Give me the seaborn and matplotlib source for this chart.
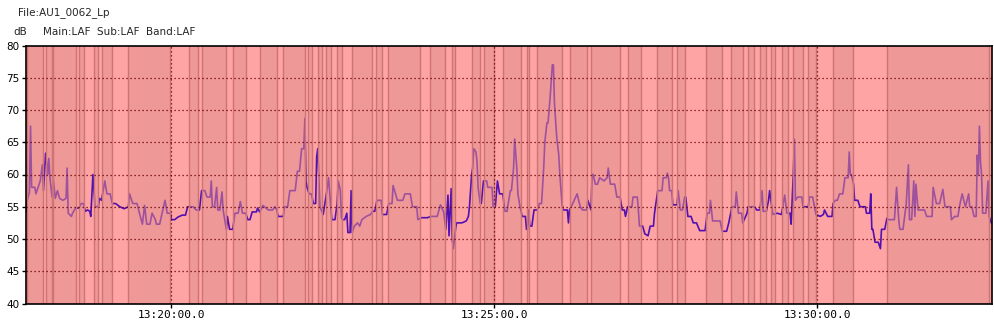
import matplotlib
matplotlib.use("Agg")
import matplotlib.pyplot as plt
import seaborn as sns
import pandas as pd
from matplotlib.ticker import FixedLocator, FuncFormatter

# ---- data: time in seconds after 13:00:00, level in dB ----
time_s = [
    1065, 1066, 1068, 1069, 1070, 1073, 1074, 1078, 1080, 1081, 1083, 1085, 1086, 1087, 1089, 1090,
    1092, 1094, 1096, 1099, 1102, 1103, 1104, 1107, 1108, 1111, 1114, 1116, 1118, 1120, 1122, 1124,
    1125, 1127, 1129, 1132, 1133, 1135, 1138, 1140, 1143, 1145, 1148, 1152, 1156, 1160, 1161, 1164,
    1168, 1171, 1173, 1175, 1177, 1180, 1182, 1185, 1186, 1189, 1192, 1194, 1196, 1199, 1200, 1203,
    1206, 1210, 1213, 1215, 1220, 1223, 1226, 1228, 1231, 1233, 1236, 1237, 1238, 1240, 1242, 1243,
    1245, 1247, 1248, 1251, 1252, 1254, 1257, 1259, 1262, 1264, 1266, 1269, 1271, 1273, 1275, 1279,
    1280, 1282, 1285, 1290, 1294, 1296, 1298, 1299, 1304, 1305, 1308, 1310, 1315, 1317, 1319, 1321,
    1323, 1324, 1325, 1326, 1328, 1330, 1332, 1334, 1335, 1336, 1338, 1341, 1344, 1346, 1349, 1352,
    1354, 1355, 1357, 1358, 1359, 1361, 1363, 1364, 1366, 1367, 1368, 1370, 1373, 1375, 1377, 1381,
    1385, 1387, 1389, 1391, 1395, 1396, 1400, 1402, 1405, 1406, 1410, 1415, 1417, 1422, 1424, 1428,
    1429, 1432, 1438, 1441, 1447, 1450, 1453, 1455, 1457, 1458, 1460, 1461, 1462, 1464, 1465, 1470,
    1474, 1476, 1477, 1479, 1480, 1481, 1483, 1484, 1485, 1487, 1488, 1490, 1493, 1494, 1498, 1499,
    1501, 1503, 1505, 1508, 1510, 1512, 1513, 1515, 1516, 1518, 1519, 1521, 1522, 1524, 1526, 1529,
    1530, 1531, 1532, 1533, 1535, 1537, 1540, 1542, 1544, 1546, 1547, 1549, 1550, 1552, 1554, 1555,
    1556, 1558, 1560, 1561, 1563, 1564, 1568, 1569, 1570, 1573, 1577, 1580, 1582, 1586, 1587, 1590,
    1591, 1592, 1594, 1596, 1598, 1602, 1605, 1606, 1608, 1612, 1614, 1617, 1619, 1621, 1622, 1624,
    1628, 1629, 1633, 1634, 1635, 1638, 1640, 1643, 1645, 1648, 1649, 1652, 1656, 1657, 1660, 1661,
    1662, 1663, 1665, 1666, 1669, 1670, 1671, 1673, 1675, 1677, 1678, 1680, 1683, 1685, 1688, 1691,
    1696, 1698, 1700, 1701, 1703, 1710, 1712, 1716, 1718, 1721, 1724, 1725, 1727, 1730, 1731, 1735,
    1736, 1742, 1744, 1747, 1749, 1750, 1753, 1755, 1756, 1759, 1763, 1767, 1770, 1772, 1775, 1776,
    1778, 1779, 1780, 1782, 1786, 1787, 1792, 1793, 1796, 1799, 1803, 1806, 1807, 1810, 1814, 1815,
    1817, 1819, 1821, 1824, 1826, 1829, 1830, 1831, 1832, 1834, 1835, 1838, 1840, 1845, 1846, 1849,
    1850, 1851, 1852, 1854, 1857, 1859, 1860, 1863, 1865, 1866, 1872, 1874, 1876, 1877, 1880, 1883,
    1885, 1886, 1888, 1890, 1891, 1892, 1894, 1900, 1902, 1907, 1908, 1911, 1914, 1917, 1919, 1924,
    1925, 1928, 1931, 1933, 1935, 1938, 1941, 1942, 1944, 1946, 1948, 1949, 1950, 1951, 1952, 1953,
    1954, 1957, 1959, 1960, 1962,
]
level_db = [
    54.2, 56.0, 57.3, 67.5, 58.0, 58.0, 57.0, 59.0, 61.5, 57.5, 63.3, 60.0, 62.5, 59.5, 56.5, 59.5,
    56.3, 57.5, 56.3, 56.0, 56.3, 61.0, 54.0, 53.5, 54.0, 54.8, 54.8, 55.5, 55.5, 54.3, 54.5, 54.3,
    53.5, 60.0, 55.0, 55.0, 56.3, 56.0, 59.0, 57.0, 57.0, 55.5, 55.5, 55.0, 54.7, 55.0, 57.0, 55.5,
    55.5, 53.5, 52.3, 55.2, 52.3, 52.3, 54.0, 53.0, 52.3, 52.3, 54.5, 56.0, 54.0, 54.0, 53.0, 53.0,
    53.4, 53.7, 53.7, 55.0, 55.0, 54.5, 54.5, 57.5, 57.5, 56.5, 56.5, 59.0, 55.0, 55.0, 58.0, 54.5,
    54.5, 57.3, 54.5, 51.5, 53.5, 51.5, 51.5, 54.0, 54.0, 55.8, 54.0, 54.0, 53.0, 53.0, 54.2, 54.2,
    54.8, 54.2, 55.2, 54.5, 54.5, 55.0, 54.5, 53.5, 53.5, 55.0, 55.0, 57.5, 57.5, 60.5, 60.5, 64.0,
    64.0, 68.7, 59.0, 58.0, 57.0, 57.0, 55.5, 55.5, 62.8, 64.0, 55.0, 53.8, 57.0, 59.5, 53.0, 53.0,
    55.5, 59.0, 57.5, 53.3, 53.0, 53.0, 54.0, 51.0, 51.0, 57.5, 51.0, 52.0, 52.5, 52.0, 53.0, 53.5,
    53.8, 54.3, 54.3, 56.0, 56.0, 53.8, 53.8, 55.5, 55.5, 58.3, 56.0, 56.0, 57.0, 57.0, 55.0, 55.0,
    53.0, 53.3, 53.3, 53.5, 53.5, 55.3, 54.2, 51.5, 56.8, 50.5, 57.8, 50.0, 48.5, 51.5, 52.5, 52.5,
    52.8, 53.5, 55.0, 60.0, 61.0, 64.0, 63.5, 62.0, 58.0, 55.5, 55.5, 59.0, 59.0, 58.0, 58.0, 55.0,
    55.0, 59.0, 57.0, 57.0, 54.3, 54.3, 55.5, 57.5, 57.5, 61.0, 65.5, 61.0, 57.0, 55.0, 53.5, 53.5,
    51.5, 51.5, 54.5, 52.0, 52.0, 54.5, 54.5, 55.5, 55.5, 61.0, 65.0, 68.0, 68.0, 72.0, 77.0, 77.0,
    71.0, 66.0, 63.0, 60.0, 55.5, 54.5, 54.5, 52.5, 54.5, 55.5, 57.0, 55.0, 54.5, 54.5, 56.0, 54.5,
    60.0, 60.0, 58.5, 58.5, 59.5, 59.0, 59.5, 61.0, 58.5, 58.5, 56.5, 56.5, 54.5, 54.5, 53.5, 55.0,
    55.0, 56.5, 56.5, 54.5, 52.0, 52.0, 50.8, 50.5, 52.0, 52.0, 54.0, 57.5, 57.5, 59.5, 59.5, 60.2,
    59.5, 57.5, 57.5, 55.3, 55.3, 55.3, 57.5, 54.5, 54.5, 56.5, 56.5, 53.5, 53.5, 52.5, 52.5, 51.3,
    51.3, 54.0, 54.0, 56.0, 52.8, 52.8, 51.2, 51.2, 52.5, 55.0, 55.0, 57.3, 54.0, 54.0, 52.5, 54.0,
    55.0, 55.0, 54.5, 54.5, 57.5, 54.3, 54.3, 56.0, 57.5, 53.8, 54.0, 53.8, 56.8, 54.0, 54.0, 52.3,
    60.0, 65.5, 56.0, 56.5, 56.5, 55.0, 55.0, 56.5, 56.5, 53.8, 53.5, 53.8, 54.5, 53.5, 53.5, 55.5,
    56.0, 56.0, 57.0, 57.0, 59.5, 59.5, 63.5, 60.0, 60.0, 58.5, 56.0, 56.0, 55.0, 55.0, 54.0, 54.0,
    57.0, 51.5, 51.5, 49.5, 49.5, 48.5, 51.5, 51.5, 53.2, 53.0, 53.0, 58.0, 53.0, 51.5, 51.5, 55.5,
    61.5, 53.0, 53.0, 59.0, 53.5, 58.5, 54.5, 54.5, 53.5, 53.5, 58.0, 55.5, 55.5, 57.7, 55.0, 55.0,
    53.0, 53.5, 53.5, 55.5, 57.0, 55.0, 57.0, 55.0, 55.0, 53.5, 53.5, 63.0, 60.0, 67.5, 62.0, 60.0,
    54.0, 54.0, 59.0, 53.5, 52.5,
]

# darker (shaded) time bands, seconds after 13:00:00
band_start = [1066.0, 1083.4, 1090.1, 1114.3, 1128.0, 1135.7, 1159.9, 1216.6, 1228.1, 1257.5,
              1282.3, 1303.9, 1327.2, 1335.9, 1343.3, 1353.6, 1367.5, 1390.1, 1401.0, 1440.3,
              1460.4, 1479.0, 1490.5, 1508.4, 1530.7, 1540.0, 1570.4, 1589.7, 1624.6, 1651.0,
              1670.2, 1696.6, 1719.8, 1736.2, 1747.0, 1757.3, 1767.8, 1778.0, 1791.6, 1815.2,
              1865.4]
band_end = [1080.8, 1088.7, 1111.0, 1118.7, 1132.0, 1144.4, 1198.6, 1224.4, 1250.4, 1269.0,
            1297.8, 1324.1, 1330.9, 1339.9, 1348.3, 1358.2, 1386.1, 1395.4, 1431.0, 1454.2,
            1463.5, 1486.8, 1500.1, 1524.6, 1532.6, 1562.7, 1585.9, 1616.9, 1636.1, 1665.5,
            1677.3, 1711.4, 1730.9, 1741.7, 1752.3, 1761.0, 1773.3, 1787.3, 1799.1, 1833.7,
            1960.2]

x_ticks = [1200, 1500, 1800]
y_ticks = [40, 45, 50, 55, 60, 65, 70, 75, 80]
x_min, x_max = 1064.5, 1962.7

df = pd.DataFrame({"time": time_s, "dB": level_db})

sns.set_style("white")
plt.rcParams["font.family"] = ["DejaVu Sans"]

fig = plt.figure(figsize=(9.94, 3.2), dpi=100)
ax = fig.add_axes([25.7 / 994, 16.5 / 320, (992 - 25.7) / 994, (303.5 - 45.5) / 320])
ax.set_facecolor("#ffa4a4")

sns.lineplot(data=df, x="time", y="dB", ax=ax, color="#5210b2", lw=1.2,
             estimator=None, sort=False, zorder=2)

edge_color = "#cf7474"
for s, e in zip(band_start, band_end):
    ax.axvspan(s, e, facecolor="#e28e8e", alpha=0.53, lw=0, zorder=3)
for s, e in zip(band_start, band_end):
    ax.axvline(s, color=edge_color, lw=1.0, zorder=4)
    ax.axvline(e, color=edge_color, lw=1.0, zorder=4)

ax.set_xlim(x_min, x_max)
ax.set_ylim(40, 80)
ax.xaxis.set_major_locator(FixedLocator(x_ticks))
ax.yaxis.set_major_locator(FixedLocator(y_ticks))


def fmt_time(v, pos):
    v = int(round(v))
    h = 13 + v // 3600
    m = (v % 3600) // 60
    s = v % 60
    return f"{h:02d}:{m:02d}:{s:02d}.0"


ax.xaxis.set_major_formatter(FuncFormatter(fmt_time))

for yv in y_ticks[1:-1]:
    ax.axhline(yv, color="#6a0000", lw=0.9, ls=(0, (1, 2.2)), zorder=5)
for xv in x_ticks:
    ax.axvline(xv, color="#6a0000", lw=0.9, ls=(0, (1, 2.2)), zorder=5)

ax.set_xlabel("")
ax.set_ylabel("")
for sp in ax.spines.values():
    sp.set_color("black")
    sp.set_linewidth(1.2)
    sp.set_zorder(6)
ax.tick_params(axis="y", which="major", direction="out", length=3, width=1,
               labelsize=7.5, pad=1.5, left=True, colors="black")
ax.tick_params(axis="x", which="major", direction="out", length=3, width=1,
               labelsize=8, pad=1.5, bottom=True, colors="black")
for lab in ax.get_xticklabels():
    lab.set_fontfamily("DejaVu Sans Mono")

fig.text(18 / 994, 1 - 13 / 320, "File:AU1_0062_Lp", fontsize=7.5, va="center", ha="left")
fig.text(13 / 994, 1 - 32 / 320, "dB", fontsize=7.5, va="center", ha="left")
fig.text(43 / 994, 1 - 32 / 320, "Main:LAF  Sub:LAF  Band:LAF", fontsize=7.5, va="center", ha="left")

fig.savefig("out.png", dpi=100, facecolor="white")
